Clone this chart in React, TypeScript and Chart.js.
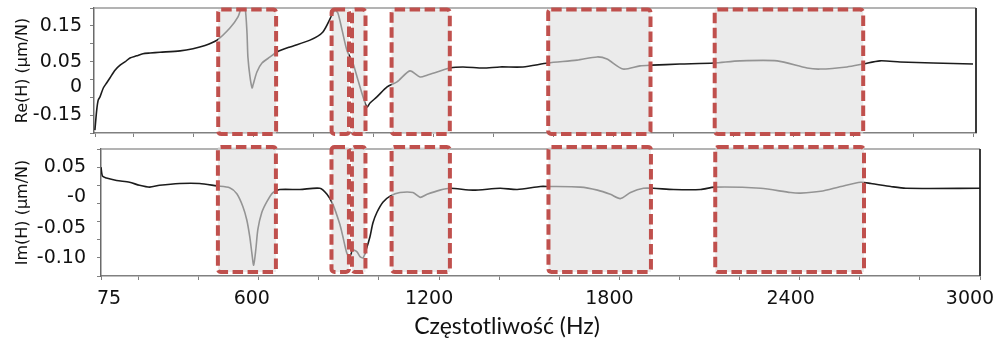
import { useEffect, useRef } from 'react';
import { Chart, registerables } from 'chart.js';

Chart.register(...registerables);

// ---------- data ----------
const reFreq = [53, 59, 64, 70, 81, 92, 103, 120, 137, 153, 170, 192, 213, 237, 270, 337, 380, 420, 460,
  503, 530, 543, 553, 560, 563, 570, 577, 580, 593, 610, 637, 660, 703, 770, 813, 843, 853, 863, 877, 893,
  913, 930, 947, 960, 970, 993, 1027, 1060, 1103, 1137, 1160, 1237, 1280, 1347, 1403, 1480, 1563, 1660,
  1727, 1760, 1813, 1870, 1910, 2003, 2117, 2203, 2327, 2427, 2470, 2560, 2613, 2670, 2737, 2847, 2980];
const reVal = [-0.142, -0.086, -0.058, -0.049, -0.024, -0.010, 0.004, 0.026, 0.040, 0.049, 0.060, 0.066, 0.072, 0.074, 0.076, 0.080, 0.086, 0.095, 0.110,
  0.144, 0.175, 0.205, 0.205, 0.130, 0.063, 0.007, -0.024, -0.016, 0.021, 0.046, 0.063, 0.077, 0.091, 0.110, 0.133, 0.180, 0.194, 0.186, 0.138, 0.082,
  0.046, -0.002, -0.049, -0.077, -0.066, -0.049, -0.021, -0.007, 0.024, 0.007, 0.012, 0.032, 0.035, 0.032, 0.035, 0.035, 0.046, 0.054,
  0.063, 0.057, 0.029, 0.038, 0.040, 0.043, 0.046, 0.052, 0.052, 0.032, 0.029, 0.035, 0.043, 0.052, 0.049, 0.046, 0.043];

const imFreq = [75, 80, 93, 127, 170, 203, 237, 270, 337, 403, 460, 503, 527, 547, 560, 570, 577, 583, 590, 597,
  610, 627, 647, 670, 737, 803, 827, 847, 870, 880, 893, 903, 913, 927, 937, 947, 957, 970, 980, 993,
  1013, 1037, 1070, 1113, 1137, 1160, 1203, 1237, 1313, 1403, 1460, 1537, 1563, 1670, 1727, 1770, 1803,
  1837, 1880, 1913, 1980, 2070, 2117, 2270, 2370, 2403, 2470, 2537, 2603, 2637, 2703, 2753, 3000];
const imVal = [0.050, 0.035, 0.032, 0.028, 0.025, 0.020, 0.017, 0.020, 0.023, 0.023, 0.019, 0.016, 0.006, -0.015, -0.037, -0.065, -0.092, -0.112, -0.087, -0.053,
  -0.025, -0.007, 0.008, 0.013, 0.013, 0.015, 0.005, -0.012, -0.045, -0.065, -0.092, -0.098, -0.087, -0.090, -0.098, -0.100, -0.087, -0.065, -0.042, -0.025,
  -0.008, 0.002, 0.008, 0.008, 0.000, 0.005, 0.012, 0.015, 0.012, 0.015, 0.013, 0.018, 0.018, 0.017, 0.012, 0.005, -0.002,
  0.008, 0.015, 0.015, 0.013, 0.013, 0.017, 0.015, 0.008, 0.007, 0.010, 0.018, 0.025, 0.023, 0.018, 0.015, 0.015];

const boxStart = [464, 842, 910, 1042, 1564, 2119];
const boxEnd = [657, 900, 955, 1236, 1905, 2614];

const xTickValues = [75, 200, 400, 600, 800, 1000, 1200, 1400, 1600, 1800, 2000, 2200, 2400, 2600, 2800, 3000];
const xLabelValues = [75, 600, 1200, 1800, 2400, 3000];
const xLabels = ['75', '600', '1200', '1800', '2400', '3000'];
const xTitle = 'Częstotliwość (Hz)';

const reMarks = [-0.15, -0.1, -0.05, 0, 0.05, 0.1, 0.15, 0.2];
const reLabelValues = [0.15, 0.05, -0.021, -0.1];
const reLabels = ['0.15', '0.05', '0', '-0.15'];

const imMarks = [-0.13, -0.1, -0.07, -0.04, -0.01, 0.02, 0.05, 0.08];
const imLabelValues = [0.05, 0, -0.05, -0.1];
const imLabels = ['0.05', '-0', '-0.05', '-0.10'];

// ---------- style ----------
const TICK_FONT = { family: 'DejaVu Sans', size: 19 };
const YTITLE_FONT = { family: 'DejaVu Sans', size: 16 };
const AXIS_GREY = '#808080';
const LINE_COLOR = '#1c1c1c';
const BOX_RED = '#c0504d';
const TOP_TICK_SHIFT = -20; // Hz offset of the upper panel's tick marks
const X_LABEL_SHIFT_PX = [8, -7, -10, -10, -9, -10];

const markTicks = (vals: number[]) => vals.map((v) => ({ value: v }));
const labelTicks = (vals: number[], labels: string[]) => vals.map((v, i) => ({ value: v, lbl: labels[i] }));

const tickColorFn = (c: any) => (c.tick && c.tick.lbl !== undefined ? 'rgba(0,0,0,0)' : AXIS_GREY);
const labelFn = (_v: any, i: number, ticks: any[]) => (ticks[i] && ticks[i].lbl !== undefined ? ticks[i].lbl : '');

const boxesPlugin = {
  id: 'boxes',
  afterDatasetsDraw(chart: any, _args: any, opts: any) {
    const { ctx, chartArea, scales } = chart;
    const x = scales.x;
    const top = chartArea.top + (opts.topInset || 0);
    const bottom = chartArea.bottom + (opts.bottomInset || 0);
    ctx.save();
    ctx.fillStyle = 'rgba(222,222,222,0.62)';
    boxStart.forEach((s, i) => {
      const l = x.getPixelForValue(s);
      const r = x.getPixelForValue(boxEnd[i]);
      ctx.beginPath();
      ctx.rect(l, top, r - l, bottom - top);
      ctx.fill();
    });
    ctx.setLineDash([10.5, 4.5]);
    ctx.lineWidth = 4;
    ctx.strokeStyle = BOX_RED;
    boxStart.forEach((s, i) => {
      const l = x.getPixelForValue(s);
      const r = x.getPixelForValue(boxEnd[i]);
      ctx.beginPath();
      if ((ctx as any).roundRect) (ctx as any).roundRect(l, top, r - l, bottom - top, 3);
      else ctx.rect(l, top, r - l, bottom - top);
      ctx.stroke();
    });
    ctx.restore();
  },
};

const framePlugin = {
  id: 'frame',
  beforeDatasetsDraw(chart: any) {
    const { ctx, chartArea } = chart;
    ctx.save();
    ctx.lineWidth = 1.5;
    ctx.strokeStyle = '#9a9a9a';
    ctx.beginPath();
    ctx.moveTo(chartArea.left, chartArea.top);
    ctx.lineTo(chartArea.right, chartArea.top);
    ctx.stroke();
    ctx.strokeStyle = '#3a3a3a';
    ctx.lineWidth = 2;
    ctx.beginPath();
    ctx.moveTo(chartArea.right, chartArea.top);
    ctx.lineTo(chartArea.right, chartArea.bottom);
    ctx.stroke();
    ctx.restore();
  },
};

function makeConfig(kind: 're' | 'im'): any {
  const isRe = kind === 're';
  const freq = isRe ? reFreq : imFreq;
  const vals = isRe ? reVal : imVal;
  const pxPerHz = 879 / 2925;
  return {
    type: 'line',
    data: {
      datasets: [
        {
          data: freq.map((f, i) => ({ x: f, y: vals[i] })),
          borderColor: LINE_COLOR,
          borderWidth: 1.6,
          pointRadius: 0,
          tension: 0.25,
          fill: false,
        },
      ],
    },
    plugins: [framePlugin, boxesPlugin],
    options: {
      responsive: false,
      animation: false,
      events: [],
      layout: { padding: isRe ? { left: 0, right: 21, top: 8, bottom: 0 } : { left: 0, right: 17, top: 9, bottom: 0 } },
      plugins: {
        legend: { display: false },
        tooltip: { enabled: false },
        title: { display: false },
        boxes: isRe ? { topInset: 1.5, bottomInset: 1 } : { topInset: -2, bottomInset: -4 },
      },
      scales: {
        x: {
          type: 'linear',
          min: isRe ? 50 : 75,
          max: isRe ? 2990 : 3000,
          afterBuildTicks: (s: any) => {
            if (isRe) {
              s.ticks = markTicks(xTickValues.map((v) => v + TOP_TICK_SHIFT));
            } else {
              const lbls = xLabelValues.map((v, i) => ({ value: v + X_LABEL_SHIFT_PX[i] / pxPerHz, lbl: xLabels[i] }));
              s.ticks = [...markTicks(xTickValues), ...lbls].sort((a, b) => a.value - b.value);
            }
          },
          afterFit: (s: any) => {
            s.height = isRe ? 7 : 68;
            s.paddingLeft = 0;
            s.paddingRight = 0;
          },
          ticks: {
            display: !isRe,
            autoSkip: false,
            maxRotation: 0,
            minRotation: 0,
            padding: 8,
            font: TICK_FONT,
            color: '#111',
            callback: labelFn,
          },
          grid: { drawOnChartArea: false, drawTicks: true, tickLength: 4, tickColor: tickColorFn, tickWidth: 1 },
          border: { display: true, color: AXIS_GREY, width: 1.5 },
          title: { display: false },
        },
        y: {
          type: 'linear',
          min: isRe ? -0.15 : -0.13,
          max: isRe ? 0.2 : 0.08,
          afterBuildTicks: (s: any) => {
            const marks = markTicks(isRe ? reMarks : imMarks);
            const lbls = isRe ? labelTicks(reLabelValues, reLabels) : labelTicks(imLabelValues, imLabels);
            s.ticks = [...marks, ...lbls].sort((a: any, b: any) => a.value - b.value);
          },
          afterFit: (s: any) => {
            s.width = isRe ? 94 : 101;
            s.paddingTop = 0;
            s.paddingBottom = 0;
          },
          ticks: {
            autoSkip: false,
            padding: isRe ? 8 : 11,
            font: TICK_FONT,
            color: '#111',
            callback: labelFn,
          },
          grid: { drawOnChartArea: false, drawTicks: true, tickLength: 4, tickColor: tickColorFn, tickWidth: 1 },
          border: { display: true, color: '#6a6a6a', width: 1.5 },
          title: {
            display: true,
            text: isRe ? 'Re(H) (µm/N)' : 'Im(H) (µm/N)',
            font: YTITLE_FONT,
            color: '#111',
            padding: { top: 13, bottom: 0 },
          },
        },
      },
    },
  };
}

function Panel({ kind, top, height }: { kind: 're' | 'im'; top: number; height: number }) {
  const ref = useRef<HTMLCanvasElement | null>(null);
  useEffect(() => {
    if (!ref.current) return;
    const chart = new Chart(ref.current, makeConfig(kind));
    return () => chart.destroy();
  }, [kind]);
  return (
    <canvas
      ref={ref}
      width={997}
      height={height}
      style={{ position: 'absolute', left: 0, top, width: 997, height, display: 'block' }}
    />
  );
}

export default function App() {
  return (
    <div style={{ position: 'absolute', left: 0, top: 0, width: 997, height: 344, background: '#fff', overflow: 'hidden' }}>
      <Panel kind="re" top={0} height={140} />
      <Panel kind="im" top={140} height={204} />
      <div
        style={{
          position: 'absolute',
          left: 307,
          width: 400,
          top: 314,
          textAlign: 'center',
          fontFamily: 'Lato, sans-serif',
          fontSize: 23,
          lineHeight: '23px',
          color: '#111',
          whiteSpace: 'nowrap',
        }}
      >
        {xTitle}
      </div>
    </div>
  );
}
